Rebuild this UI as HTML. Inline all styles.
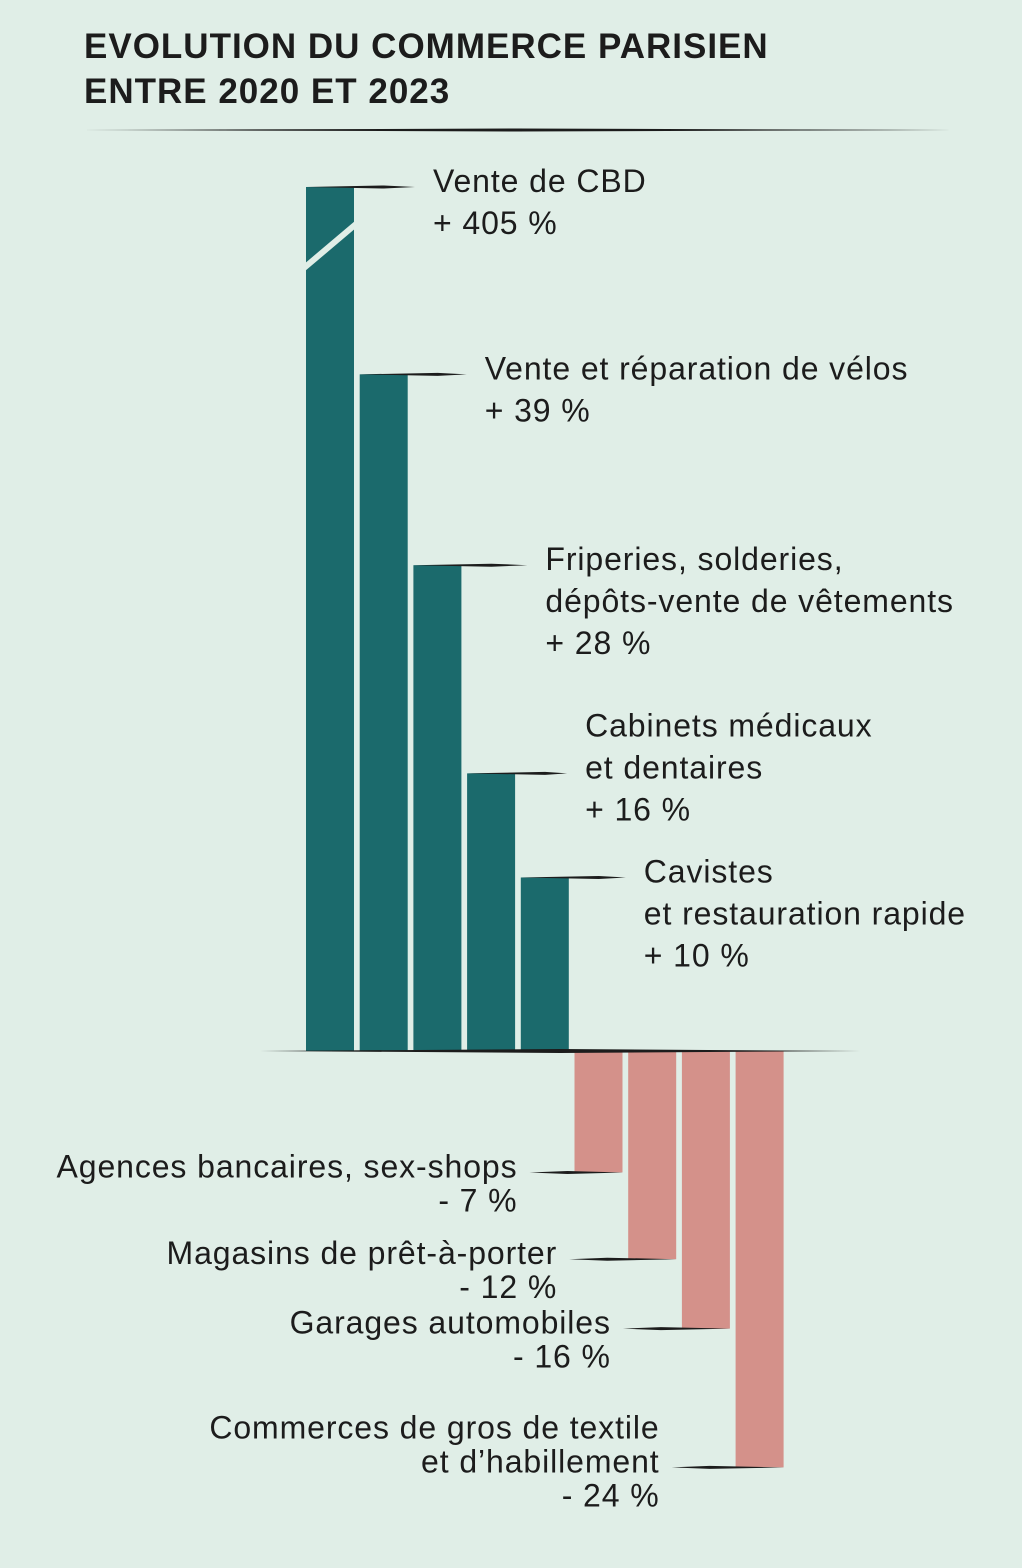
<!DOCTYPE html>
<html><head><meta charset="utf-8"><style>
html,body{margin:0;padding:0;background:#e0eee7;}
svg{display:block;}
text{font-family:"Liberation Sans",sans-serif;fill:#1c1c1c;}
</style></head><body>
<svg id="chart" width="1022" height="1568" viewBox="0 0 1022 1568">
<rect width="1022" height="1568" fill="#e0eee7"/>
<text x="84" y="58" font-size="35" font-weight="bold" letter-spacing="1">EVOLUTION DU COMMERCE PARISIEN</text>
<text x="84" y="103" font-size="35" font-weight="bold" letter-spacing="1">ENTRE 2020 ET 2023</text>
<polygon points="82,130 517,128.5 952,130 517,131.5" fill="#1c1c1c"/>
<g id="bars"></g>
<polygon points="260,1051 560,1049 860,1051 560,1053" fill="#1c1c1c"/>
</svg>
<script>
const categories = [["Vente de CBD"],["Vente et réparation de vélos"],["Friperies, solderies,","dépôts-vente de vêtements"],["Cabinets médicaux","et dentaires"],["Cavistes","et restauration rapide"],["Agences bancaires, sex-shops"],["Magasins de prêt-à-porter"],["Garages automobiles"],["Commerces de gros de textile","et d’habillement"]];
const values = [405,39,28,16,10,-7,-12,-16,-24];
const valueLabels = ["+ 405 %","+ 39 %","+ 28 %","+ 16 %","+ 10 %","- 7 %","- 12 %","- 16 %","- 24 %"];
const capValue = 50;
// layout offsets (not data)
const labelDX = [79,77,84,70,75,-57,-71,-71,-76];
const labelDY = [0,0,0,-42,0,0,0,0,0];
const NS="http://www.w3.org/2000/svg";
const g=document.getElementById('bars');
const zeroY=1051, pxPer=17.35, x0=306, step=53.7, bw=48;
const yScale=v=>zeroY - Math.max(-capValue,Math.min(capValue,v))*pxPer;
function mk(tag,attrs){const e=document.createElementNS(NS,tag);for(const k in attrs)e.setAttribute(k,attrs[k]);g.appendChild(e);return e;}
values.forEach((v,i)=>{
  const x=x0+i*step;
  let y=yScale(v);
  const capped=Math.abs(v)>capValue;
  if(capped) y=187;
  const r=mk('rect',{x:x,y:Math.min(y,zeroY),width:bw,height:Math.abs(zeroY-y),fill:v>=0?'#1b6a6c':'#d4918a'});
  
  
  if(capped){
    const b=mk('line',{x1:x-2,y1:268,x2:x+bw+2,y2:224,stroke:'#e0eee7','stroke-width':6});
    
    
  }
  const lines=categories[i].concat([valueLabels[i]]);
  if(v>=0){
    const lx=x+bw+labelDX[i];
    const l=mk('polygon',{points:`${x},${y} ${x+bw+30},${y-1.5} ${lx-18},${y} ${x+bw+30},${y+1.5}`,fill:'#1c1c1c'});
    
    
    const t=mk('text',{'font-size':32,'letter-spacing':0.9});
    
    
    lines.forEach((s,j)=>{const ts=document.createElementNS(NS,'tspan');ts.setAttribute('x',lx);ts.setAttribute('y',y+labelDY[i]+5+j*42);ts.textContent=s;t.appendChild(ts);});
  } else {
    const tx=x+labelDX[i];
    const l=mk('polygon',{points:`${tx+12},${y} ${tx+50},${y-1.5} ${x+bw},${y} ${tx+50},${y+1.5}`,fill:'#1c1c1c'});
    
    
    const n=lines.length;
    const t=mk('text',{'text-anchor':'end','font-size':32,'letter-spacing':0.9});
    
    
    lines.forEach((s,j)=>{const ts=document.createElementNS(NS,'tspan');ts.setAttribute('x',tx);ts.setAttribute('y',y-5+(j-(n-2))*34+10);ts.textContent=s;t.appendChild(ts);});
  }
});
</script>
</body></html>
